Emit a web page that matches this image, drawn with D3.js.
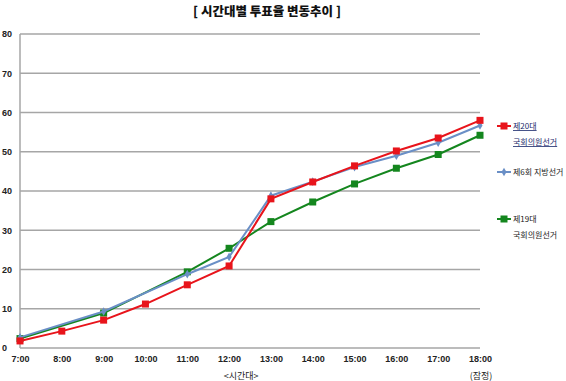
<!DOCTYPE html>
<html>
<head>
<meta charset="utf-8">
<script src="https://cdn.jsdelivr.net/npm/d3@7"></script>
<style>
  body { margin: 0; background: #fff; }
  svg { display: block; font-family: "Noto Sans CJK KR", "DejaVu Sans", sans-serif; }
  .grid line { stroke: #a6a6a6; stroke-width: 1.5; }
  .tick text { font-size: 9px; fill: #222; }
</style>
</head>
<body>
<svg id="chart" width="566" height="381"></svg>
<script>
'use strict';

// time slots on the x axis
var hours = ["7:00", "8:00", "9:00", "10:00", "11:00", "12:00", "13:00",
             "14:00", "15:00", "16:00", "17:00", "18:00"];
var yTicks = [0, 10, 20, 30, 40, 50, 60, 70, 80];

// turnout (%) per hour; null = not reported for that hour
var vote20 = [1.8, 4.3, 7.1, 11.2, 16.1, 20.9, 38.0, 42.3, 46.4, 50.2, 53.5, 58.0];
var local6 = [2.7, null, 9.3, null, 18.8, 23.2, 38.8, 42.4, 46.1, 49.0, 52.3, 56.7];
var vote19 = [2.4, null, 8.9, null, 19.4, 25.4, 32.2, 37.2, 41.8, 45.8, 49.3, 54.2];

var seriesNames = [["제20대", "국회의원선거"], ["제6회 지방선거"], ["제19대", "국회의원선거"]];
var seriesColors = ["#e8141b", "#6a8fc6", "#14861e"];
var seriesShapes = ["square", "diamond", "square"];

var svg = d3.select("#chart");
var margin = { left: 20, top: 34, right: 86, bottom: 33 };
var width = 566 - margin.left - margin.right;
var height = 381 - margin.top - margin.bottom;

var x = d3.scalePoint().domain(hours).range([0, width]);
var y = d3.scaleLinear().domain([0, 80]).range([height, 0]);

var g = svg.append("g")
    .attr("transform", "translate(" + margin.left + "," + margin.top + ")");

svg.append("text")
    .attr("x", 267)
    .attr("y", 16)
    .attr("text-anchor", "middle")
    .attr("font-size", "12.5px")
    .attr("font-weight", "900")
    .attr("fill", "#111")
    .text("[ 시간대별 투표율 변동추이 ]");

// horizontal grid
g.append("g")
    .attr("class", "grid")
    .selectAll("line")
    .data(yTicks)
    .enter()
    .append("line")
    .attr("x1", 0)
    .attr("x2", width)
    .attr("y1", function (d) { return y(d); })
    .attr("y2", function (d) { return y(d); });

g.append("line")
    .attr("x1", 0).attr("x2", 0)
    .attr("y1", 0).attr("y2", height)
    .attr("stroke", "#a6a6a6")
    .attr("stroke-width", 1.5);

// y axis labels
var yAxis = g.append("g")
    .call(d3.axisLeft(y).tickValues(yTicks).tickSize(0).tickPadding(8));
yAxis.select(".domain").remove();
yAxis.selectAll(".tick text").attr("text-anchor", "start").attr("x", -18).attr("font-weight", "bold");

// x axis labels
var xAxis = g.append("g")
    .attr("transform", "translate(0," + height + ")")
    .call(d3.axisBottom(x).tickSize(0).tickPadding(8));
xAxis.select(".domain").remove();
xAxis.selectAll(".tick text").attr("font-weight", "bold");

g.append("text")
    .attr("x", x("12:00") + 12)
    .attr("y", height + 31)
    .attr("text-anchor", "middle")
    .attr("font-size", "9px")
    .attr("fill", "#222")
    .text("<시간대>");

g.append("text")
    .attr("x", x("18:00") + 1)
    .attr("y", height + 31)
    .attr("text-anchor", "middle")
    .attr("font-size", "9px")
    .attr("fill", "#222")
    .text("(잠정)");

var line = d3.line()
    .x(function (d) { return x(d.hour); })
    .y(function (d) { return y(d.value); });

function toPoints(values) {
    return values.map(function (v, i) {
        return { hour: hours[i], value: v };
    }).filter(function (d) { return d.value !== null; });
}

function drawMarker(sel, shape, color) {
    if (shape === "square") {
        sel.append("rect")
            .attr("x", -3.5).attr("y", -3.5)
            .attr("width", 7).attr("height", 7)
            .attr("fill", color);
    } else {
        sel.append("path")
            .attr("d", d3.symbol().type(d3.symbolDiamond).size(22)())
            .attr("fill", color);
    }
}

var allSeries = [vote19, local6, vote20];
var order = [2, 1, 0];

allSeries.forEach(function (values, k) {
    var idx = order[k];
    var pts = toPoints(values);
    g.append("path")
        .datum(pts)
        .attr("fill", "none")
        .attr("stroke", seriesColors[idx])
        .attr("stroke-width", 2)
        .attr("d", line);
    g.selectAll(".m" + idx)
        .data(pts)
        .enter()
        .append("g")
        .attr("class", "m" + idx)
        .attr("transform", function (d) {
            return "translate(" + x(d.hour) + "," + y(d.value) + ")";
        })
        .each(function () {
            drawMarker(d3.select(this), seriesShapes[idx], seriesColors[idx]);
        });
});

// legend
var legendY = [126, 172, 219];
var legend = svg.append("g");
seriesNames.forEach(function (names, i) {
    var row = legend.append("g")
        .attr("transform", "translate(497," + legendY[i] + ")");
    row.append("line")
        .attr("x1", 0).attr("x2", 14)
        .attr("stroke", seriesColors[i])
        .attr("stroke-width", 2);
    drawMarker(row.append("g").attr("transform", "translate(7,0)"), seriesShapes[i], seriesColors[i]);
    names.forEach(function (name, j) {
        var t = row.append("text")
            .attr("x", 16)
            .attr("y", 3 + j * 16)
            .attr("font-size", "8px")
            .attr("fill", i === 0 ? "#1a2a6c" : "#222")
            .text(name);
        if (i === 0) {
            t.attr("text-decoration", "underline");
        }
    });
});
</script>
</body>
</html>
